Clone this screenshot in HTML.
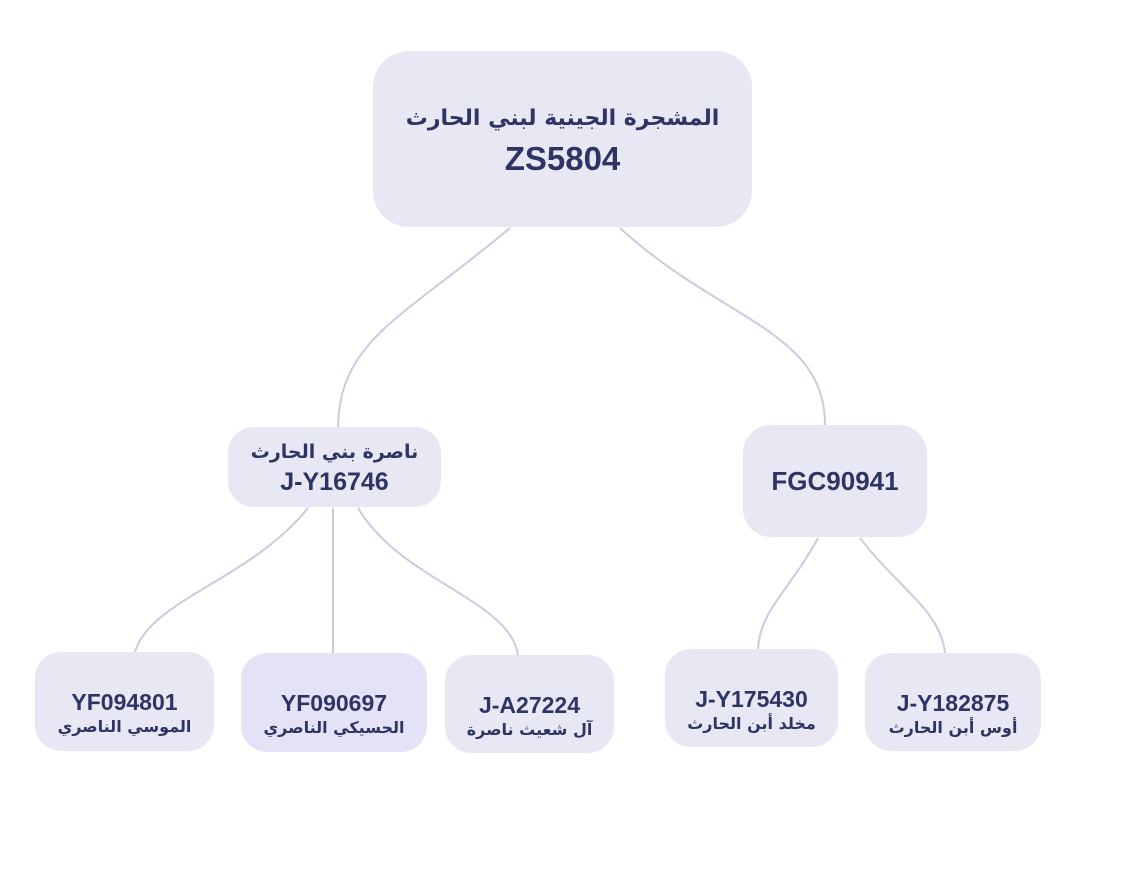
<!DOCTYPE html>
<html><head><meta charset="utf-8"><style>
body{margin:0;width:1125px;height:889px;background:#fff;position:relative;overflow:hidden;font-family:"Liberation Sans","Noto Sans CJK SC",sans-serif;color:#2e3564;font-weight:bold}
.n{position:absolute;background:#e8e8f4;display:flex;flex-direction:column;align-items:center;justify-content:center;text-align:center;box-sizing:border-box}
.l{padding-top:24px}
.c{font-size:23px;line-height:27px}
.a{font-size:16px;line-height:22px;font-family:"DejaVu Sans","Liberation Sans",sans-serif;font-weight:bold}
svg{position:absolute;left:0;top:0}
</style></head><body>
<svg width="1125" height="889"><g fill="none" stroke="#c8cce0" stroke-width="2">
<path d="M510 228 C400 320 340 340 338 427"/>
<path d="M620 228 C720 320 825 330 825 425"/>
<path d="M308 508 C250 580 150 600 135 652"/>
<path d="M333 508 L333 653"/>
<path d="M358 508 C400 580 510 600 518 655"/>
<path d="M818 538 C790 590 760 610 758 649"/>
<path d="M860 538 C900 590 940 610 945 653"/>
</g></svg>
<div class="n" style="left:373px;top:51px;width:379px;height:176px;border-radius:36px">
<div style="font-size:22px;line-height:40px;font-family:'DejaVu Sans',sans-serif;font-weight:bold">المشجرة الجينية لبني الحارث</div>
<div style="font-size:33px;line-height:40px">ZS5804</div></div>
<div class="n" style="left:228px;top:427px;width:213px;height:80px;border-radius:26px">
<div style="font-size:19px;line-height:30px;font-family:'DejaVu Sans',sans-serif;font-weight:bold">ناصرة بني الحارث</div>
<div style="font-size:25px;line-height:30px">J-Y16746</div></div>
<div class="n" style="left:743px;top:425px;width:184px;height:112px;border-radius:28px"><div style="font-size:26px">FGC90941</div></div>
<div class="n l" style="left:35px;top:652px;width:179px;height:99px;border-radius:26px"><div class="c">YF094801</div><div class="a">الموسي الناصري</div></div>
<div class="n l" style="left:241px;top:653px;width:186px;height:99px;border-radius:26px;background:#e3e2f6"><div class="c">YF090697</div><div class="a">الحسيكي الناصري</div></div>
<div class="n l" style="left:445px;top:655px;width:169px;height:98px;border-radius:26px"><div class="c">J-A27224</div><div class="a">آل شعيث ناصرة</div></div>
<div class="n l" style="left:665px;top:649px;width:173px;height:98px;border-radius:26px"><div class="c">J-Y175430</div><div class="a">مخلد أبن الحارث</div></div>
<div class="n l" style="left:865px;top:653px;width:176px;height:98px;border-radius:26px"><div class="c">J-Y182875</div><div class="a">أوس أبن الحارث</div></div>
</body></html>
